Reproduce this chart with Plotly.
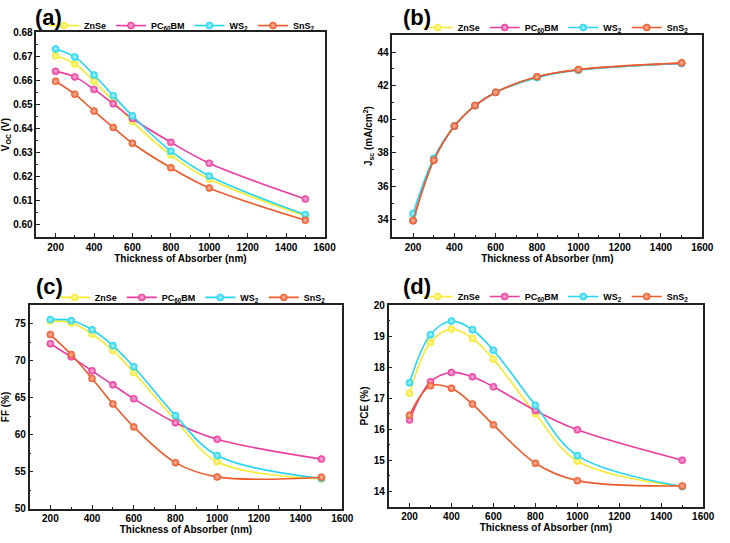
import plotly.graph_objects as go

W, H = 730, 543

thickness = [200, 300, 400, 500, 600, 800, 1000, 1500]
materials = ["ZnSe", "PC<sub>60</sub>BM", "WS<sub>2</sub>", "SnS<sub>2</sub>"]
colors = ["#F7EA2C", "#EE3C9E", "#24D6F2", "#EE5A2C"]
tints = ["#FFF8B0", "#F9B8DE", "#B8F1FB", "#F9BFA8"]

voc_znse = [0.6703, 0.6669, 0.6597, 0.6515, 0.6429, 0.6290, 0.6190, 0.6037]
voc_pcbm = [0.6638, 0.6615, 0.6563, 0.6503, 0.6442, 0.6343, 0.6256, 0.6107]
voc_ws2 = [0.6731, 0.6698, 0.6623, 0.6537, 0.6453, 0.6306, 0.6203, 0.6042]
voc_sns2 = [0.6597, 0.6543, 0.6473, 0.6405, 0.6339, 0.6237, 0.6153, 0.6019]

jsc_znse = [33.97, 37.58, 39.59, 40.81, 41.60, 42.52, 42.95, 43.33]
jsc_pcbm = [33.96, 37.57, 39.59, 40.81, 41.60, 42.52, 42.95, 43.33]
jsc_ws2 = [34.38, 37.68, 39.60, 40.82, 41.60, 42.48, 42.92, 43.32]
jsc_sns2 = [33.96, 37.56, 39.60, 40.82, 41.61, 42.53, 42.96, 43.36]

ff_znse = [75.39, 75.13, 73.60, 71.40, 68.40, 62.00, 56.35, 54.00]
ff_pcbm = [72.30, 70.52, 68.64, 66.74, 64.86, 61.62, 59.38, 56.70]
ff_ws2 = [75.56, 75.43, 74.18, 72.04, 69.18, 62.58, 57.18, 54.08]
ff_sns2 = [73.53, 70.83, 67.60, 64.16, 61.05, 56.22, 54.29, 54.25]

pce_znse = [17.16, 18.80, 19.23, 18.93, 18.26, 16.50, 14.97, 14.15]
pce_pcbm = [16.30, 17.53, 17.83, 17.69, 17.37, 16.60, 15.98, 15.00]
pce_ws2 = [17.50, 19.05, 19.49, 19.21, 18.55, 16.77, 15.15, 14.15]
pce_sns2 = [16.45, 17.40, 17.32, 16.81, 16.14, 14.90, 14.34, 14.17]

panels = [
    ([voc_znse, voc_pcbm, voc_ws2, voc_sns2], "V<sub>OC</sub> (V)", [0.595, 0.68], 0.01, 0.005, ".2f", "(a)"),
    ([jsc_znse, jsc_pcbm, jsc_ws2, jsc_sns2], "J<sub>sc</sub> (mA/cm<sup>2</sup>)", [33, 45], 2, 1, "d", "(b)"),
    ([ff_znse, ff_pcbm, ff_ws2, ff_sns2], "FF (%)", [50, 77.5], 5, 2.5, "d", "(c)"),
    ([pce_znse, pce_pcbm, pce_ws2, pce_sns2], "PCE (%)", [13.5, 20], 1, 0.5, "d", "(d)"),
]

# plot-area boxes in pixels: left, right, top, bottom
boxes = [(37, 330, 27, 236), (399, 714, 30, 236), (30, 348, 306, 514), (395, 715, 306, 512)]
legend_pos = [(185, 20), (565, 22), (196, 298), (565, 297)]
label_pos = [(49, 12), (424, 12), (50, 287), (424, 287)]

FONT = "Arial, Liberation Sans, sans-serif"
fig = go.Figure()
layout = dict(
    width=W, height=H, margin=dict(l=0, r=0, t=0, b=0),
    paper_bgcolor="white", plot_bgcolor="white",
    font=dict(family=FONT, color="black", size=10),
    showlegend=True, annotations=[],
)

for i, (series, ytitle, yrange, dtick, minor, fmt, label) in enumerate(panels):
    n = "" if i == 0 else str(i + 1)
    xa, ya = "x" + n, "y" + n
    lg = "legend" + n
    for name, vals, c, t in zip(materials, series, colors, tints):
        fig.add_trace(go.Scatter(
            x=thickness, y=vals, name=name, mode="lines+markers",
            line=dict(color=c, width=1.6, shape="spline", smoothing=1.0),
            marker=dict(color=c, size=7, line=dict(color=c, width=0.6),
                        gradient=dict(type="radial", color=t)),
            xaxis=xa, yaxis=ya, legend=lg,
        ))
    l, r, t_, b = boxes[i]
    axcommon = dict(showline=True, linecolor="#222", linewidth=1.5, mirror=True,
                    ticks="inside", ticklen=4, tickwidth=1.2, tickcolor="#222",
                    showgrid=False, zeroline=False,
                    tickfont=dict(family=FONT, size=10, weight="bold", color="black"))
    layout["xaxis" + n] = dict(
        domain=[l / W, r / W], range=[100, 1600], dtick=200, tick0=0,
        anchor=ya,
        minor=dict(dtick=100, ticks="inside", ticklen=2, tickcolor="#222", tickwidth=1),
        title=dict(text="Thickness of Absorber (nm)", standoff=3,
                   font=dict(family=FONT, size=10, weight="bold", color="black")),
        **axcommon)
    layout["yaxis" + n] = dict(
        domain=[1 - b / H, 1 - t_ / H], range=yrange, dtick=dtick, tick0=0,
        tickformat=fmt, anchor=xa,
        minor=dict(dtick=minor, ticks="inside", ticklen=2, tickcolor="#222", tickwidth=1),
        title=dict(text=ytitle, standoff=3,
                   font=dict(family=FONT, size=10, weight="bold", color="black")),
        **axcommon)
    lx, ly = legend_pos[i]
    layout[lg] = dict(
        orientation="h", x=lx / W, y=1 - ly / H, xanchor="center", yanchor="middle",
        bgcolor="rgba(0,0,0,0)", font=dict(family=FONT, size=9, weight="bold", color="black"),
        itemwidth=30, tracegroupgap=0,
    )
    px, py = label_pos[i]
    layout["annotations"].append(dict(
        text=label, x=px / W, y=1 - py / H, xref="paper", yref="paper",
        showarrow=False, xanchor="center", yanchor="middle",
        font=dict(family=FONT, size=22, weight="bold", color="black"),
    ))

fig.update_layout(**layout)
fig.write_html("out.html")
